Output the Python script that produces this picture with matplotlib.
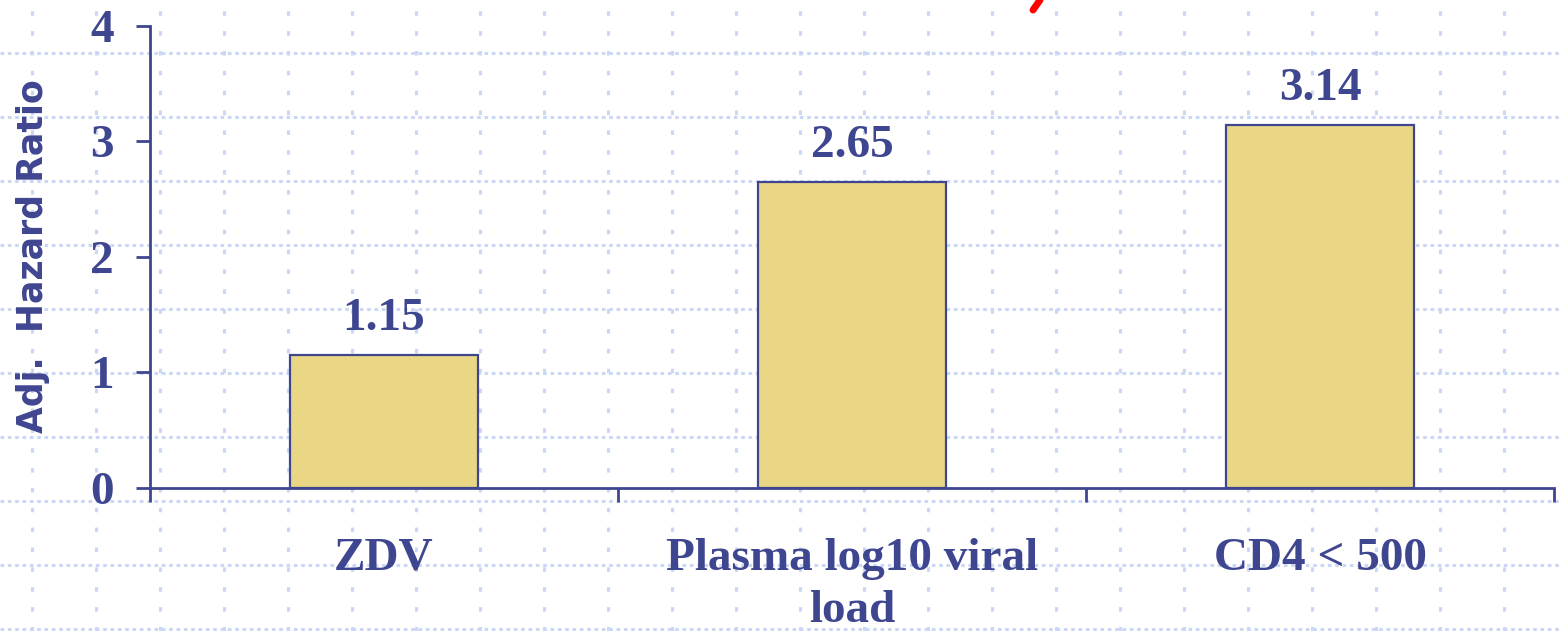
import matplotlib.pyplot as plt
from matplotlib.lines import Line2D
import numpy as np

# chart data
categories = ["ZDV", "Plasma log10 viral\nload", "CD4 < 500"]
hazard_ratios = [1.15, 2.65, 3.14]
value_labels = ["1.15", "2.65", "3.14"]
y_ticks = [0, 1, 2, 3, 4]

navy = "#3F4690"
bar_fill = "#EAD785"
grid_blue = "#CAD8F6"

W, H = 1559, 631
fig = plt.figure(figsize=(W / 100, H / 100), dpi=100)
fig.patch.set_facecolor("white")

##################################################
# slide background: dotted grid over the whole picture
bg = fig.add_axes([0, 0, 1, 1], zorder=0)
bg.set_xlim(0, W)
bg.set_ylim(H, 0)
bg.axis("off")
for yy in np.arange(53, H + 1, 64):
    bg.axhline(yy, color=grid_blue, lw=2.2, linestyle=(0, (1.2, 1.2)))
for xx in np.arange(32, W, 64):
    bg.axvline(xx, color=grid_blue, lw=2.2, linestyle=(0, (1.5, 5)))

# red stroke cut off at the top
fig.add_artist(Line2D([1040 / W, 1033 / W], [1.0, 1 - 10 / H],
                      color="red", lw=5, solid_capstyle="round"))

##################################################
# main bar chart
ax = fig.add_axes([150 / W, 1 - 488 / H, (1554 - 150) / W, (488 - 25.5) / H], zorder=1)
ax.patch.set_alpha(0)
x = np.arange(len(categories))
ax.bar(x, hazard_ratios, width=0.4, color=bar_fill, edgecolor=navy, linewidth=1.6, zorder=2)

ax.set_xlim(-0.5, len(categories) - 0.5)
ax.set_ylim(0, 4)

for s in ["top", "right"]:
    ax.spines[s].set_visible(False)
for s in ["left", "bottom"]:
    ax.spines[s].set_color(navy)
    ax.spines[s].set_linewidth(2)

serif = {"family": "Liberation Serif", "weight": "bold", "size": 34}

ax.set_yticks(y_ticks)
ax.set_yticklabels([str(t) for t in y_ticks], fontdict=serif, color=navy)
ax.tick_params(axis="y", direction="out", length=10, width=2, color=navy, pad=16)

ax.set_xticks(x)
ax.set_xticklabels(categories, fontdict=serif, color=navy, linespacing=1.3)
ax.set_xticks(np.arange(len(categories) + 1) - 0.5, minor=True)
ax.tick_params(axis="x", which="major", length=0, pad=36)
ax.tick_params(axis="x", which="minor", direction="out", length=10, width=2, color=navy)

for xi, v, lab in zip(x, hazard_ratios, value_labels):
    ax.annotate(lab, (xi, v), xytext=(0, 18), textcoords="offset points",
                ha="center", va="baseline", color=navy, **serif)

fig.text(33 / W, 1 - 256 / H, "Adj.  Hazard Ratio", rotation=90, ha="center", va="center",
         color=navy, fontsize=25, fontweight="bold", family="DejaVu Sans")

fig.savefig("out.png", dpi=100)
